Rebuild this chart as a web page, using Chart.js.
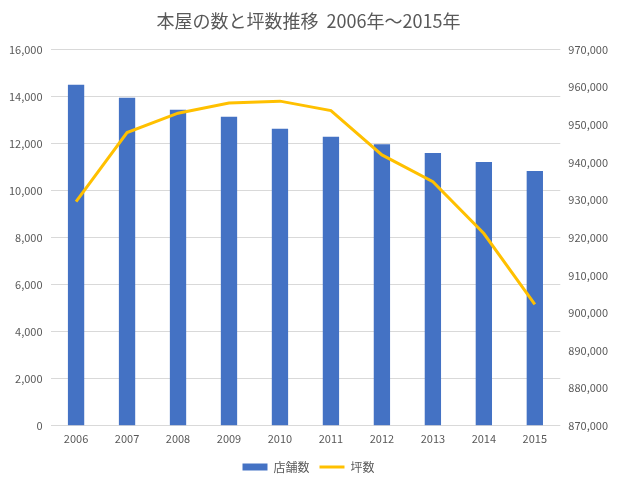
<!DOCTYPE html>
<html>
<head>
<meta charset="utf-8">
<script src="https://cdn.jsdelivr.net/npm/chart.js@4/dist/chart.umd.min.js"></script>
<style>
  html, body { margin: 0; padding: 0; background: #fff; }
  #wrap { width: 619px; height: 487px; }
</style>
</head>
<body>
<div id="wrap"><canvas id="chart" width="619" height="487"></canvas></div>
<script>
var years = ["2006", "2007", "2008", "2009", "2010", "2011", "2012", "2013", "2014", "2015"];
var storeCounts = [14500, 13950, 13440, 13140, 12630, 12290, 11970, 11600, 11220, 10840];
var floorArea = [929600, 947950, 953100, 955800, 956300, 953800, 942000, 934900, 921100, 902300];

var fmt = function (v) { return Number(v).toLocaleString('en-US'); };
var tickFont = { family: "'Noto Sans CJK JP', 'Liberation Sans', sans-serif", size: 11 };

var ctx = document.getElementById("chart");
var myChart = new Chart(ctx, {
    data: {
        labels: years,
        datasets: [
            {
                type: 'line',
                label: "坪数",
                data: floorArea,
                yAxisID: 'y2',
                borderColor: "#FFC000",
                backgroundColor: "#FFC000",
                borderWidth: 3,
                pointRadius: 0,
                tension: 0,
                pointStyle: 'line',
                order: 0
            },
            {
                type: 'bar',
                label: "店舗数",
                data: storeCounts,
                yAxisID: 'y',
                backgroundColor: "#4472C4",
                categoryPercentage: 1,
                barPercentage: 0.32,
                pointStyle: 'rect',
                order: 1
            }
        ]
    },
    options: {
        responsive: false,
        animation: false,
        layout: { padding: { left: 1, right: 3, top: 4, bottom: 4 } },
        plugins: {
            title: {
                display: true,
                text: '本屋の数と坪数推移  2006年～2015年',
                color: '#595959',
                font: { family: "'Noto Sans CJK JP', sans-serif", size: 18, weight: 'normal' },
                padding: { top: 6, bottom: 18 }
            },
            legend: {
                position: 'bottom',
                reverse: true,
                labels: {
                    color: '#595959',
                    font: { family: "'Noto Sans CJK JP', sans-serif", size: 12 },
                    usePointStyle: true,
                    pointStyleWidth: 25,
                    boxHeight: 7,
                    padding: 10
                }
            },
            tooltip: { enabled: false }
        },
        scales: {
            x: {
                grid: { display: false, drawTicks: false },
                border: { display: false },
                ticks: { color: '#595959', font: tickFont, maxRotation: 0, padding: 6 }
            },
            y: {
                position: 'left',
                min: 0,
                max: 16000,
                ticks: { stepSize: 2000, color: '#595959', font: tickFont, callback: fmt, padding: 8 },
                grid: { color: '#d9d9d9', drawTicks: false },
                border: { display: false }
            },
            y2: {
                position: 'right',
                min: 870000,
                max: 970000,
                ticks: { stepSize: 10000, color: '#595959', font: tickFont, callback: fmt, padding: 8 },
                grid: { display: false, drawTicks: false },
                border: { display: false }
            }
        }
    }
});
</script>
</body>
</html>
